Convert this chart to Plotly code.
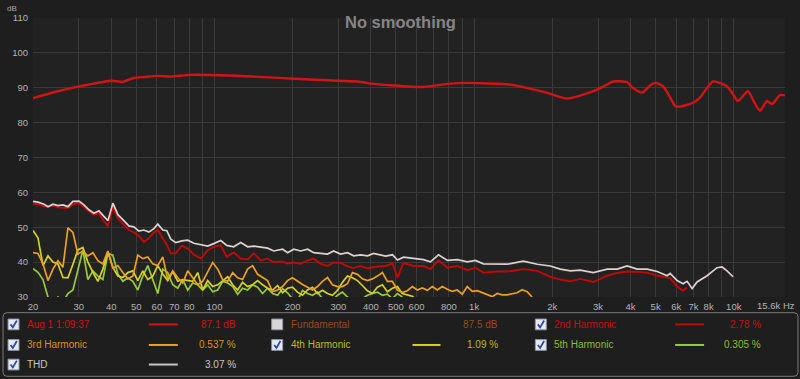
import math
import plotly.graph_objects as go

# ---------------- data ----------------
MAIN_FREQ = [20, 24.5, 30.1, 34.9, 40, 44.4, 48.9, 54, 60.5, 67.9, 81, 115, 169, 202, 298,
             355, 410, 476, 638, 790, 942, 1378, 1546, 1900, 2284, 2876, 3140, 3432, 3886, 4080,
             4437, 4770, 4980, 5346, 5690, 5944, 6200, 6968, 7418, 8320, 9420, 9940, 10380, 11340,
             12000, 12620, 13420, 14040, 15060, 15740]
MAIN_DB = [87.0, 88.85, 90.4, 91.3, 92.0, 91.7, 92.8, 93.1, 93.4, 93.2, 93.7, 93.5, 92.9, 92.6, 92.0,
           91.8, 91.1, 90.7, 90.2, 91.1, 91.4, 90.9, 90.2, 88.6, 86.9, 89.0, 90.3, 91.8, 91.6, 90.0,
           88.6, 90.7, 91.4, 90.4, 87.2, 84.8, 84.6, 85.7, 87.2, 91.8, 90.4, 88.1, 86.2, 89.0,
           85.8, 83.4, 86.2, 85.3, 87.9, 87.8]

F_TH = [20.0, 20.91, 22.05, 22.85, 23.87, 24.96, 26.09, 27.27, 28.50, 30.06,
        31.42, 32.85, 34.33, 35.88, 37.51, 38.86, 40.62, 42.46, 44.38, 46.80,
        48.92, 51.13, 53.45, 55.87, 58.40, 60.50, 63.25, 65.53, 67.89, 70.96,
        74.84, 78.92, 83.24, 88.55, 94.22, 99.35, 105.7, 111.5, 118.6, 126.2,
        134.3, 141.6, 150.6, 160.3, 169.0, 183.0, 191.3, 201.8, 214.7, 228.5,
        240.9, 256.3, 272.7, 287.5, 305.9, 325.5, 343.3, 365.2, 388.6, 409.8,
        436.0, 455.7, 485.0, 506.9, 534.5, 584.1, 638.2, 679.0, 729.0, 789.3,
        862.4, 942.2, 1011, 1086, 1229, 1343, 1547, 1751, 1965, 2147,
        2346, 2563, 2876, 3255, 3557, 3886, 4246, 4639, 5070, 5539,
        5688, 6050, 6381, 6611, 6910, 7223, 7892, 8624, 9014, 9422,
        9935]
THD_DB = [57.4, 57.2, 56.6, 55.9, 56.6, 56.2, 56.4, 55.9, 57.4, 57.5,
          56.4, 55.0, 54.0, 54.7, 53.1, 51.9, 56.9, 53.6, 52.2, 50.4,
          50.1, 48.9, 49.2, 48.6, 49.6, 50.9, 49.2, 49.0, 46.6, 45.6,
          46.1, 46.3, 45.4, 44.9, 44.6, 45.3, 46.2, 44.8, 44.4, 45.6,
          44.4, 44.6, 44.4, 44.0, 43.2, 43.7, 42.7, 43.7, 43.2, 43.7,
          42.7, 42.5, 42.3, 43.2, 42.3, 42.7, 41.8, 42.1, 41.8, 42.5,
          42.0, 41.7, 42.1, 40.6, 41.4, 41.0, 40.7, 40.1, 42.1, 40.5,
          40.7, 40.1, 40.5, 39.5, 39.5, 39.4, 40.3, 39.4, 38.9, 38.0,
          37.5, 37.7, 37.0, 38.0, 38.0, 38.9, 38.0, 38.0, 37.3, 36.1,
          36.8, 34.7, 33.8, 34.5, 32.4, 34.3, 36.1, 38.4, 38.6, 37.5,
          35.8]
H2_DB = [56.8, 56.6, 55.9, 55.9, 56.2, 55.7, 55.6, 55.5, 56.6, 56.9,
         55.8, 54.5, 53.6, 54.0, 51.7, 50.3, 55.8, 52.6, 51.0, 49.2,
         48.6, 47.5, 45.8, 46.8, 48.5, 49.3, 46.8, 45.0, 42.5, 42.5,
         44.7, 43.9, 42.2, 41.0, 43.4, 44.4, 44.8, 41.5, 42.8, 41.0,
         40.8, 42.5, 40.5, 41.0, 40.0, 40.2, 39.6, 39.9, 39.5, 40.5,
         41.0, 39.5, 38.9, 39.9, 39.8, 38.8, 38.3, 38.9, 38.2, 38.6,
         38.8, 38.9, 39.6, 35.6, 39.8, 38.9, 38.9, 38.0, 40.5, 38.4,
         38.9, 37.7, 38.4, 37.0, 37.3, 37.3, 38.0, 37.5, 35.8, 35.0,
         34.5, 35.2, 34.3, 36.1, 36.9, 37.3, 37.2, 37.0, 36.1, 35.6,
         35.4, 33.0, 31.8, 32.7]

F_GRID = [20.00, 20.90, 21.85, 22.84, 23.87, 24.95, 26.08, 27.26, 28.50, 29.79,
          31.13, 32.54, 34.02, 35.56, 37.16, 38.85, 40.61, 42.44, 44.36, 46.37,
          48.47, 50.66, 52.96, 55.35, 57.86, 60.48, 63.21, 66.07, 69.06, 72.19,
          75.46, 78.87, 82.44, 86.17, 90.07, 94.15, 98.41, 102.9, 107.5, 112.4,
          117.5, 122.8, 128.3, 134.1, 140.2, 146.6, 153.2, 160.1, 167.4, 175.0,
          182.9, 191.1, 199.8, 208.8, 218.3, 228.2, 238.5, 249.3, 260.6, 272.4,
          284.7, 297.6, 311.1, 325.2, 339.9, 355.3, 371.3, 388.1, 405.7, 424.1,
          443.3, 463.3, 484.3, 506.2, 529.1, 553.1, 578.1, 604.3, 631.6, 660.2,
          690.1, 721.3, 754.0, 788.1, 823.8, 861.0, 900.0, 940.7, 983.3, 1028,
          1074, 1123, 1174, 1227, 1282, 1340, 1401, 1464, 1531, 1600,
          1672]
H3_DB = [42.7, 42.5, 39.5, 34.7, 38.0, 40.4, 38.5, 49.8, 48.5, 42.3,
         43.2, 41.8, 42.7, 40.4, 39.5, 43.2, 38.3, 39.0, 37.0, 35.2,
         36.0, 42.0, 41.0, 41.5, 39.5, 39.0, 41.5, 35.0, 37.5, 35.5,
         34.0, 37.5, 35.5, 33.5, 34.5, 37.0, 39.9, 38.0, 35.0, 34.5,
         37.0, 35.5, 35.0, 38.0, 39.0, 36.5, 35.5, 34.7, 31.5, 32.0,
         33.0, 34.7, 35.5, 34.5, 33.6, 32.8, 32.0, 33.0, 34.5, 35.6,
         33.5, 33.0, 33.0, 33.8, 37.0, 36.5, 35.2, 34.7, 35.2, 36.0,
         37.0, 34.5, 34.5, 32.0, 31.3, 31.8, 33.0, 32.0, 32.6, 31.9,
         33.0, 32.0, 33.0, 32.2, 31.6, 32.0, 30.8, 33.0, 31.6, 31.8,
         31.2, 30.6, 30.1, 31.0, 30.6, 30.6, 31.0, 31.2, 32.1, 31.5,
         30.0]
H4_DB = [49.1, 47.0, 39.0, 41.8, 40.0, 39.5, 35.6, 35.5, 39.4, 43.5,
         44.2, 40.0, 37.1, 34.5, 38.0, 43.0, 38.5, 36.0, 35.6, 37.0,
         37.5, 34.7, 37.5, 35.0, 36.0, 39.0, 36.6, 34.7, 37.3, 34.5,
         35.0, 34.7, 34.5, 37.0, 32.0, 34.7, 33.0, 33.5, 34.7, 35.8,
         33.5, 32.0, 34.2, 33.0, 33.5, 34.7, 33.5, 32.5, 32.0, 33.3,
         31.2, 32.5, 32.8, 31.4, 30.5, 32.0, 32.8, 31.0, 31.9, 31.0,
         30.5, 31.9, 34.2, 36.0, 35.5, 34.7, 33.3, 31.8, 31.0, 32.8,
         33.5, 31.5, 32.5, 33.0, 31.0, 30.5, 30.2, 29.0]
H5_DB = [38.1, 37.1, 35.0, 30.0, 28.5, 30.0, 28.5, 31.0, 32.0, 37.5,
         43.5, 35.0, 37.5, 36.0, 35.0, 42.5, 42.0, 36.6, 34.5, 35.5,
         34.5, 32.0, 36.0, 39.0, 35.0, 31.0, 38.0, 37.0, 33.5, 32.5,
         35.0, 32.0, 34.0, 33.5, 32.0, 33.5, 31.5, 32.0, 34.5, 34.0,
         33.0, 30.8, 32.5, 32.0, 33.5, 32.8, 31.0, 32.5, 31.0, 30.5,
         32.4, 31.2, 29.5, 29.0, 31.9, 31.0, 30.5, 31.4, 29.5, 29.0,
         29.0, 30.5, 31.4, 30.0, 29.0, 28.5, 29.5, 30.5, 31.0, 31.4,
         30.5, 30.8, 29.5, 31.0, 30.0]

X_TICKS = [20, 30, 40, 50, 60, 70, 80, 90, 100, 200, 300, 400, 500, 600, 700, 800, 900,
           1000, 2000, 3000, 4000, 5000, 6000, 7000, 8000, 9000, 10000]
X_TICK_TEXT = ["20", "30", "40", "50", "60", "70", "80", "", "100", "200", "300", "400", "500",
               "600", "", "800", "", "1k", "2k", "3k", "4k", "5k", "6k", "7k", "8k", "", "10k"]
Y_TICKS = [30, 40, 50, 60, 70, 80, 90, 100, 110]

LEG_LABELS = ["Aug 1 1:09:37", "Fundamental", "2nd Harmonic",
              "3rd Harmonic", "4th Harmonic", "5th Harmonic", "THD"]
LEG_VALUES = ["87.1 dB", "87.5 dB", "2.78 %", "0.537 %", "1.09 %", "0.305 %", "3.07 %"]
LEG_CHECKED = [True, False, True, True, True, True, True]
LEG_HAS_LINE = [True, False, True, True, True, True, True]

# ---------------- styling ----------------
C_MAIN = "#d41414"
C_H2 = "#c40808"
C_H3 = "#eea020"
C_H4 = "#d6d222"
C_H5 = "#96cc3c"
C_THD = "#dcd2d2"
LEG_TEXT_COLORS = ["#d01212", "#9a4a1c", "#c41010", "#dc921e", "#bcbc22", "#8cbc3a", "#c8c8c8"]
LEG_LINE_COLORS = [C_MAIN, None, C_H2, C_H3, C_H4, C_H5, "#c8c8c8"]

W, H = 800, 379
PL, PR, PT, PB = 32, 785, 12, 297


def px(x):
    return (x - PL) / (PR - PL)


def py(y):
    return (PB - y) / (PB - PT)


fig = go.Figure()

fig.add_trace(go.Scatter(x=F_GRID[:len(H5_DB)], y=H5_DB, mode="lines",
                         line=dict(color=C_H5, width=1.7), hoverinfo="skip"))
fig.add_trace(go.Scatter(x=F_GRID[:len(H4_DB)], y=H4_DB, mode="lines",
                         line=dict(color=C_H4, width=1.7), hoverinfo="skip"))
fig.add_trace(go.Scatter(x=F_GRID[:len(H3_DB)], y=H3_DB, mode="lines",
                         line=dict(color=C_H3, width=1.7), hoverinfo="skip"))
fig.add_trace(go.Scatter(x=F_TH[:len(H2_DB)], y=H2_DB, mode="lines",
                         line=dict(color=C_H2, width=1.9), hoverinfo="skip"))
fig.add_trace(go.Scatter(x=F_TH, y=THD_DB, mode="lines",
                         line=dict(color=C_THD, width=1.7), hoverinfo="skip"))
fig.add_trace(go.Scatter(x=MAIN_FREQ, y=MAIN_DB, mode="lines",
                         line=dict(color=C_MAIN, width=2.4, shape="spline", smoothing=0.6),
                         hoverinfo="skip"))

tick_font = dict(family="Liberation Sans, Arial, sans-serif", size=9.5, color="#b4b4b4")

fig.update_xaxes(type="log", range=[math.log10(20), math.log10(15750)],
                 tickvals=X_TICKS, ticktext=X_TICK_TEXT, tickfont=tick_font,
                 showgrid=True, gridcolor="#3a3a3a", gridwidth=1, zeroline=False,
                 showline=False, ticks="", ticklabelstandoff=2)
fig.update_yaxes(range=[30, 110], tickvals=Y_TICKS, tickfont=tick_font,
                 showgrid=True, gridcolor="#3a3a3a", gridwidth=1, zeroline=False,
                 showline=False, ticks="", ticklabelstandoff=4)

annotations = []
shapes = []

annotations.append(dict(x=px(400), y=py(16), xref="paper", yref="paper", text="<b>No smoothing</b>",
                        showarrow=False, xanchor="center", yanchor="middle",
                        font=dict(family="Liberation Sans, Arial, sans-serif", size=16.5, color="#858585")))
annotations.append(dict(x=px(11), y=py(2.5), xref="paper", yref="paper", text="dB",
                        showarrow=False, xanchor="center", yanchor="middle",
                        font=dict(family="Liberation Sans, Arial, sans-serif", size=8, color="#a8a8a8")))
annotations.append(dict(x=px(797), y=py(305.5), xref="paper", yref="paper", text="15.6k Hz",
                        showarrow=False, xanchor="right", yanchor="middle",
                        font=tick_font))

x0, x1, y0, y1, r = 2, 798, 313, 378, 4
path = (f"M {px(x0 + r)} {py(y0)} L {px(x1 - r)} {py(y0)} "
        f"Q {px(x1)} {py(y0)} {px(x1)} {py(y0 + r)} L {px(x1)} {py(y1 - r)} "
        f"Q {px(x1)} {py(y1)} {px(x1 - r)} {py(y1)} L {px(x0 + r)} {py(y1)} "
        f"Q {px(x0)} {py(y1)} {px(x0)} {py(y1 - r)} L {px(x0)} {py(y0 + r)} "
        f"Q {px(x0)} {py(y0)} {px(x0 + r)} {py(y0)} Z")
shapes.append(dict(type="path", path=path, xref="paper", yref="paper",
                   line=dict(color="#7a7a7a", width=1), fillcolor="#1e1e1e", layer="below"))

COL_BOX = [7, 271, 535]
COL_TEXT = [24, 288, 552]
COL_LINE = [(148, 177), (412, 440), (675, 704)]
COL_VAL = [237, 500, 763]
ROW_Y = [325, 346, 366]
leg_font = "Liberation Sans, Arial, sans-serif"

for i, label in enumerate(LEG_LABELS):
    row, col = divmod(i, 3)
    yc = ROW_Y[row]
    bx = COL_BOX[col]
    shapes.append(dict(type="rect", xref="paper", yref="paper",
                       x0=px(bx), x1=px(bx + 11), y0=py(yc - 5.5), y1=py(yc + 5.5),
                       fillcolor="#e6eaf2" if LEG_CHECKED[i] else "#d8d8d8",
                       line=dict(color="#8c94a4", width=1)))
    if LEG_CHECKED[i]:
        shapes.append(dict(type="path", xref="paper", yref="paper",
                           path=(f"M {px(bx + 2.5)} {py(yc)} L {px(bx + 4.8)} {py(yc + 3)} "
                                 f"L {px(bx + 8.8)} {py(yc - 4)}"),
                           line=dict(color="#2c4ca8", width=1.8)))
    annotations.append(dict(x=px(COL_TEXT[col]), y=py(yc), xref="paper", yref="paper", text=label,
                            showarrow=False, xanchor="left", yanchor="middle",
                            font=dict(family=leg_font, size=10, color=LEG_TEXT_COLORS[i])))
    if LEG_HAS_LINE[i]:
        lx0, lx1 = COL_LINE[col]
        shapes.append(dict(type="line", xref="paper", yref="paper",
                           x0=px(lx0), x1=px(lx1), y0=py(yc), y1=py(yc),
                           line=dict(color=LEG_LINE_COLORS[i], width=2)))
    annotations.append(dict(x=px(COL_VAL[col]), y=py(yc), xref="paper", yref="paper",
                            text=LEG_VALUES[i], showarrow=False, xanchor="right", yanchor="middle",
                            font=dict(family=leg_font, size=10, color=LEG_TEXT_COLORS[i])))

fig.update_layout(width=W, height=H, margin=dict(l=PL, r=W - PR, t=PT, b=H - PB),
                  paper_bgcolor="#1e1e1e", plot_bgcolor="#222222", showlegend=False,
                  annotations=annotations, shapes=shapes)

fig.write_html("out.html", config={"displayModeBar": False},
               post_script="document.body.style.margin='0';document.body.style.overflow='hidden';"
                           "document.body.style.background='#1e1e1e';")
